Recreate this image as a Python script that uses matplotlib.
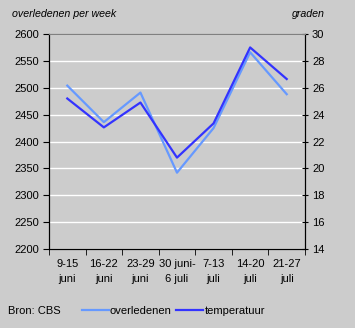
import numpy as np
import matplotlib
matplotlib.use('Agg')
import matplotlib.pyplot as plt
from matplotlib.lines import Line2D

# gegevens
weken = ['9-15\njuni', '16-22\njuni', '23-29\njuni', '30 juni-\n6 juli',
         '7-13\njuli', '14-20\njuli', '21-27\njuli']
overledenen = [2504, 2436, 2491, 2342, 2425, 2566, 2488]
temperatuur = [25.2, 23.05, 24.9, 20.8, 23.35, 29.0, 26.65]

bg = '#cccccc'
licht = '#6699ff'
donker = '#3333ff'
plt.rcParams['font.family'] = ['Liberation Sans', 'DejaVu Sans']
fs = 8

fig = plt.figure(figsize=(3.55, 3.28), dpi=100, facecolor=bg)
ax = fig.add_axes([49 / 355, 1 - 249 / 328, 256 / 355, 215 / 328], facecolor=bg)
ax2 = ax.twinx()

x = np.arange(len(weken))
ax.plot(x, overledenen, color=licht, lw=1.6, zorder=3)
ax2.plot(x, temperatuur, color=donker, lw=1.6, zorder=3)

ax.set_xlim(-0.5, len(weken) - 0.5)
ax.set_ylim(2200, 2600)
ax2.set_ylim(14, 30)
ax.set_yticks(np.arange(2200, 2601, 50))
ax2.set_yticks(np.arange(14, 31, 2))
ax.yaxis.grid(True, color='white', lw=1)
ax.set_axisbelow(True)

ax.set_xticks(x)
ax.set_xticklabels(weken, fontsize=fs, linespacing=1.6)
ax.set_xticks(np.arange(-0.5, len(weken), 1), minor=True)
ax.tick_params(axis='x', which='major', length=0, pad=7.5)
ax.tick_params(axis='x', which='minor', length=4, direction='out', color='black')
ax.tick_params(axis='y', labelsize=fs, length=4, direction='out', pad=3)
ax2.tick_params(axis='y', labelsize=fs, length=4, direction='inout', pad=3)

for a in (ax, ax2):
    a.spines['top'].set_color('#808080')
    a.spines['left'].set_color('black')
    a.spines['right'].set_color('black')
    a.spines['bottom'].set_color('black')

fig.text(12 / 355, 1 - 14 / 328, 'overledenen per week', fontsize=7.7, style='italic', va='center')
fig.text(325 / 355, 1 - 14 / 328, 'graden', fontsize=7.7, style='italic', va='center', ha='right')

# legenda
ly = 1 - 311 / 328
fig.text(8 / 355, ly, 'Bron: CBS', fontsize=fs, va='center')
fig.add_artist(Line2D([82 / 355, 109 / 355], [ly + 0.003, ly + 0.003], color=licht, lw=1.6))
fig.text(110 / 355, ly, 'overledenen', fontsize=fs, va='center')
fig.add_artist(Line2D([176 / 355, 203 / 355], [ly + 0.003, ly + 0.003], color=donker, lw=1.6))
fig.text(205 / 355, ly, 'temperatuur', fontsize=fs, va='center')

fig.savefig('out.png', dpi=100, facecolor=bg)
